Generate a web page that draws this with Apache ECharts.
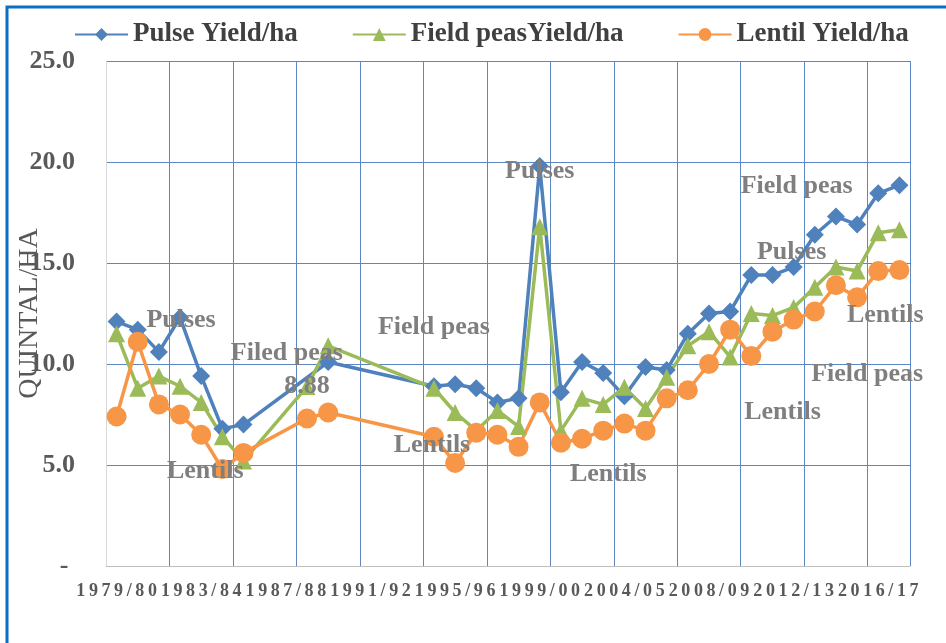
<!DOCTYPE html>
<html>
<head>
<meta charset="utf-8">
<style>
html, body { margin: 0; padding: 0; background: #fff; }
#main { width: 946px; height: 643px; }
</style>
<script src="https://cdn.jsdelivr.net/npm/echarts@6/dist/echarts.min.js"></script>
</head>
<body>
<div id="main"></div>
<script>
var categories = ['1979/80', '1980/81', '1981/82', '1982/83', '1983/84', '1984/85', '1985/86', '1986/87',
	'1987/88', '1988/89', '1989/90', '1990/91', '1991/92', '1992/93', '1993/94', '1994/95', '1995/96',
	'1996/97', '1997/98', '1998/99', '1999/00', '2001/02', '2002/03', '2003/04', '2004/05', '2005/06',
	'2006/07', '2007/08', '2008/09', '2009/10', '2010/11', '2011/12', '2012/13', '2013/14', '2014/15',
	'2015/16', '2016/17', '2017/18'];

var pulseYield = [12.1, 11.7, 10.6, 12.3, 9.4, 6.8, 7.0, null, null, null, 10.1, null, null, null, null,
	8.9, 9.0, 8.8, 8.1, 8.3, 19.8, 8.6, 10.1, 9.55, 8.4, 9.85, 9.7, 11.5, 12.5, 12.6, 14.4, 14.4, 14.8,
	16.4, 17.3, 16.9, 18.45, 18.85];
var fieldPeasYield = [11.5, 8.8, 9.4, 8.9, 8.1, 6.4, 5.2, null, null, 8.88, 10.9, null, null, null, null,
	8.8, 7.6, 6.7, 7.7, 6.9, 16.8, 6.7, 8.3, 8.0, 8.85, 7.8, 9.35, 10.9, 11.6, 10.35, 12.5, 12.4, 12.8,
	13.8, 14.8, 14.6, 16.5, 16.65];
var lentilYield = [7.4, 11.1, 8.0, 7.5, 6.5, 4.8, 5.6, null, null, 7.3, 7.6, null, null, null, null,
	6.4, 5.1, 6.6, 6.5, 5.9, 8.1, 6.1, 6.3, 6.7, 7.05, 6.7, 8.3, 8.7, 10.0, 11.7, 10.4, 11.6, 12.2,
	12.6, 13.9, 13.3, 14.6, 14.65];

// labelled point of the field peas series
var peasLabelIndex = 9;

// free text notes: text, category index, value
var pulseNotes = [['Pulses', 3, 12.3], ['Pulses', 20, 19.7], ['Pulses', 32, 15.7]];
var peasNotes = [['Filed peas', 8, 10.7], ['Field peas', 15, 11.95], ['Field peas', 32, 18.95], ['Field peas', 35, 9.65]];
var lentilNotes = [['Lentils', 4, 4.85], ['Lentils', 15, 6.1], ['Lentils', 23, 4.7], ['Lentils', 31, 7.75], ['Lentils', 36, 12.55]];
// small sideways nudges of the notes, px
var pulseNudge = [1, 0, -2];
var peasNudge = [1, 0, 3, 10];
var lentilNudge = [4, -2, 5, 10, 7];

var serif = '"Liberation Serif", "Times New Roman", serif';
var noteColor = '#7f7f7f';

function notes(list, nudge) {
	return list.map(function(n, i) {
		return {
			name : n[0],
			coord : [ n[1], n[2] ],
			label : { offset : [ nudge[i], 3 ] }
		};
	});
}

function markNotes(list, nudge) {
	return {
		symbol : 'circle',
		symbolSize : 1,
		silent : true,
		itemStyle : { color : 'rgba(0,0,0,0)' },
		label : {
			show : true,
			position : 'inside',
			formatter : '{b}',
			color : noteColor,
			textBorderWidth : 0,
			fontFamily : serif,
			fontWeight : 'bold',
			fontSize : 26
		},
		data : notes(list, nudge)
	};
}

var myChart = echarts.init(document.getElementById('main'));

var option = {
	animation : false,
	backgroundColor : '#fff',
	graphic : [ {
		type : 'rect',
		shape : { x : 7, y : 7, width : 1200, height : 1200 },
		style : { fill : 'none', stroke : '#0B6FC4', lineWidth : 3 },
		silent : true
	} ],
	legend : {
		top : 16,
		left : 69,
		itemWidth : 53,
		itemHeight : 16,
		itemGap : 54,
		textStyle : {
			fontFamily : serif,
			fontWeight : 'bold',
			fontSize : 27,
			color : '#404040'
		},
		data : [ 'Pulse Yield/ha', 'Field peasYield/ha', 'Lentil Yield/ha' ]
	},
	grid : { left : 106, right : 36, top : 61, bottom : 77, outerBoundsMode : 'none' },
	xAxis : {
		type : 'category',
		data : categories,
		boundaryGap : true,
		axisLine : { lineStyle : { color : '#BFBFBF', width : 1 } },
		axisTick : { show : false },
		splitLine : { show : true, interval : 2, lineStyle : { color : '#5B87C5', width : 1 } },
		axisLabel : {
			interval : 3,
			margin : 16,
			formatter : function(v) {
				return v.split('').map(function(ch) {
					return '{d|' + ch + '}';
				}).join('');
			},
			rich : {
				d : {
					fontFamily : serif,
					fontWeight : 'bold',
					fontSize : 18,
					color : '#595959',
					padding : [ 0, 1.8, 0, 1.8 ]
				}
			}
		}
	},
	yAxis : {
		type : 'value',
		min : 0,
		max : 25,
		interval : 5,
		name : 'QUINTAL/HA',
		nameLocation : 'middle',
		nameGap : 62,
		nameMoveOverlap : false,
		nameTextStyle : { fontFamily : serif, fontSize : 28, color : '#595959' },
		axisLine : { show : true, lineStyle : { color : '#D9D9D9' } },
		axisTick : { show : false },
		splitLine : { lineStyle : { color : '#5B87C5', width : 1 } },
		axisLabel : {
			margin : 31,
			fontFamily : serif,
			fontWeight : 'bold',
			fontSize : 26,
			color : '#595959',
			formatter : function(v) {
				return v === 0 ? '- ' : v.toFixed(1);
			}
		}
	},
	series : [ {
		name : 'Pulse Yield/ha',
		type : 'line',
		data : pulseYield,
		connectNulls : true,
		showAllSymbol : true,
		symbol : 'diamond',
		symbolSize : 18,
		itemStyle : { color : '#4F81BD' },
		lineStyle : { width : 3.5, color : '#4F81BD' },
		markPoint : markNotes(pulseNotes, pulseNudge)
	}, {
		name : 'Field peasYield/ha',
		type : 'line',
		data : fieldPeasYield.map(function(v, i) {
			if (i !== peasLabelIndex) return v;
			return {
				value : v,
				label : {
					show : true,
					position : 'inside',
					color : noteColor,
					textBorderWidth : 0,
					fontFamily : serif,
					fontWeight : 'bold',
					fontSize : 26
				}
			};
		}),
		connectNulls : true,
		showAllSymbol : true,
		symbol : 'triangle',
		symbolSize : 17,
		itemStyle : { color : '#9BBB59' },
		lineStyle : { width : 3.5, color : '#9BBB59' },
		markPoint : markNotes(peasNotes, peasNudge)
	}, {
		name : 'Lentil Yield/ha',
		type : 'line',
		data : lentilYield,
		connectNulls : true,
		showAllSymbol : true,
		symbol : 'circle',
		symbolSize : 20,
		itemStyle : { color : '#F79646' },
		lineStyle : { width : 3.5, color : '#F79646' },
		markPoint : markNotes(lentilNotes, lentilNudge)
	} ]
};

myChart.setOption(option);
</script>
</body>
</html>
